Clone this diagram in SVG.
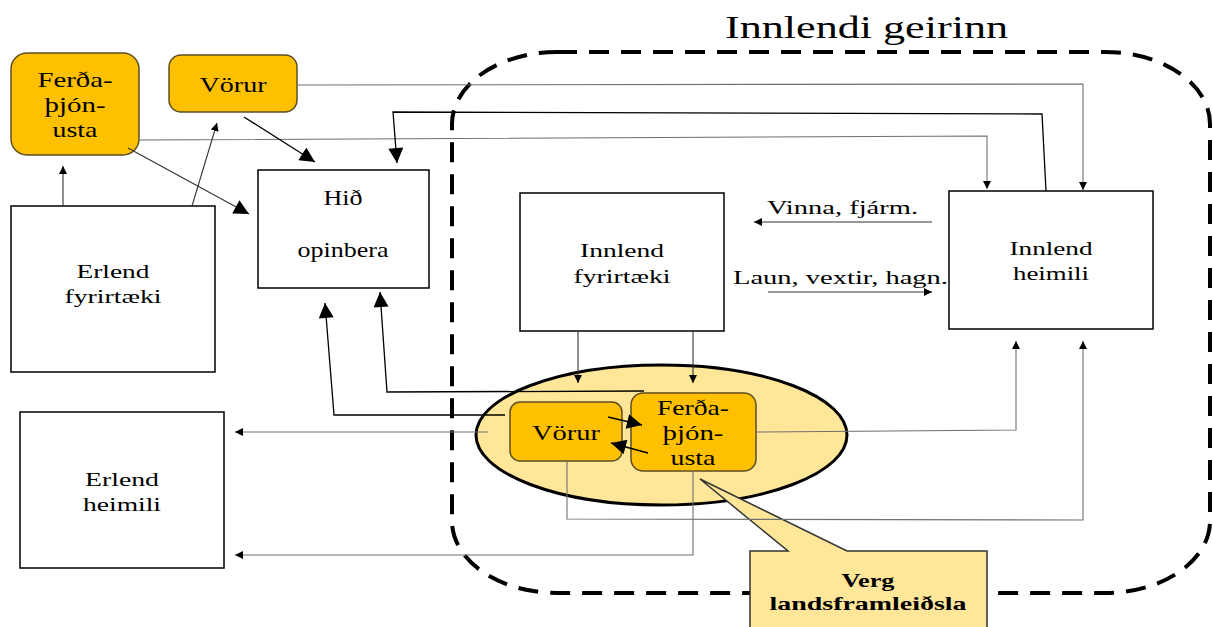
<svg xmlns="http://www.w3.org/2000/svg" width="1213" height="627" viewBox="0 0 1213 627">
<style>
.t{font-family:"Liberation Serif","Times New Roman",serif;fill:#000;}
.box{fill:#fff;stroke:#000;stroke-width:1.5;}
.obox{fill:#FFC000;stroke:#5e4e22;stroke-width:1.5;}
.gl{fill:none;stroke:#707070;stroke-width:1.1;}
.dl{fill:none;stroke:#333;stroke-width:1.1;}
.bl{fill:none;stroke:#000;stroke-width:1.3;}
.sm{marker-end:url(#sm);}
.lg{marker-end:url(#lg);}
</style>
<defs>
<marker id="sm" viewBox="0 0 10 10" refX="10" refY="5" markerUnits="userSpaceOnUse" markerWidth="8" markerHeight="8" orient="auto"><path d="M0,0 L10,5 L0,10 z" fill="#000"/></marker>
<marker id="lg" viewBox="0 0 10 10" refX="10" refY="5" markerUnits="userSpaceOnUse" markerWidth="16" markerHeight="15" orient="auto"><path d="M0,0 L10,5 L0,10 z" fill="#000"/></marker>
</defs>
<rect width="1213" height="627" fill="#fff"/>
<g id="innlendi-geirinn">
<rect x="452" y="52" width="758" height="541" rx="105" ry="72" fill="none" stroke="#000" stroke-width="4" stroke-dasharray="20 12"/>
<text class="t" x="725" y="38" font-size="32" textLength="283" lengthAdjust="spacingAndGlyphs">Innlendi geirinn</text>
</g>
<g id="ferda-erlend">
<rect class="obox" x="11" y="53" width="128" height="102" rx="16"/>
<text class="t" font-size="21" text-anchor="middle"><tspan x="75" y="87" textLength="75" lengthAdjust="spacingAndGlyphs">Ferða-</tspan><tspan x="75" y="112" textLength="61" lengthAdjust="spacingAndGlyphs">þjón-</tspan><tspan x="75" y="137" textLength="45" lengthAdjust="spacingAndGlyphs">usta</tspan></text>
</g>
<g id="vorur-erlend">
<rect class="obox" x="169" y="55" width="128" height="57" rx="12"/>
<text class="t" font-size="21" text-anchor="middle" x="233" y="92" textLength="67" lengthAdjust="spacingAndGlyphs">Vörur</text>
</g>
<g id="hid-opinbera">
<rect class="box" x="258" y="170" width="171" height="118"/>
<text class="t" font-size="21" text-anchor="middle"><tspan x="343" y="205" textLength="39" lengthAdjust="spacingAndGlyphs">Hið</tspan><tspan x="343" y="257" textLength="91" lengthAdjust="spacingAndGlyphs">opinbera</tspan></text>
</g>
<g id="erlend-fyrirtaeki">
<rect class="box" x="11" y="206" width="204" height="166"/>
<text class="t" font-size="19" text-anchor="middle"><tspan x="113" y="278" textLength="73" lengthAdjust="spacingAndGlyphs">Erlend</tspan><tspan x="113" y="303" textLength="97" lengthAdjust="spacingAndGlyphs">fyrirtæki</tspan></text>
</g>
<g id="erlend-heimili">
<rect class="box" x="20" y="412" width="204" height="156"/>
<text class="t" font-size="19" text-anchor="middle"><tspan x="122" y="486" textLength="74" lengthAdjust="spacingAndGlyphs">Erlend</tspan><tspan x="122" y="511" textLength="78" lengthAdjust="spacingAndGlyphs">heimili</tspan></text>
</g>
<g id="innlend-fyrirtaeki">
<rect class="box" x="520" y="193" width="204" height="138"/>
<text class="t" font-size="19" text-anchor="middle"><tspan x="622" y="257" textLength="84" lengthAdjust="spacingAndGlyphs">Innlend</tspan><tspan x="622" y="283" textLength="97" lengthAdjust="spacingAndGlyphs">fyrirtæki</tspan></text>
</g>
<g id="innlend-heimili">
<rect class="box" x="949" y="191" width="204" height="138"/>
<text class="t" font-size="19" text-anchor="middle"><tspan x="1051" y="255" textLength="83" lengthAdjust="spacingAndGlyphs">Innlend</tspan><tspan x="1051" y="280" textLength="76" lengthAdjust="spacingAndGlyphs">heimili</tspan></text>
</g>
<g id="landsframleidsla">
<ellipse cx="661.5" cy="435" rx="185.5" ry="70" fill="#FFE699" stroke="#000" stroke-width="3"/>
</g>
<g id="vorur-innlend">
<rect class="obox" x="510" y="402" width="112" height="59" rx="10"/>
<text class="t" font-size="22" text-anchor="middle" x="566" y="440" textLength="68" lengthAdjust="spacingAndGlyphs">Vörur</text>
</g>
<g id="ferda-innlend">
<rect class="obox" x="631" y="393" width="125" height="78" rx="12"/>
<text class="t" font-size="22" text-anchor="middle"><tspan x="693" y="415" textLength="72" lengthAdjust="spacingAndGlyphs">Ferða-</tspan><tspan x="693" y="440" textLength="61" lengthAdjust="spacingAndGlyphs">þjón-</tspan><tspan x="693" y="465" textLength="45" lengthAdjust="spacingAndGlyphs">usta</tspan></text>
</g>
<g id="verg-callout">
<path d="M750,551 L788,551 L700,479 L847,551 L987,551 L987,640 L750,640 Z" fill="#FFE699" stroke="#333" stroke-width="1.5"/>
<text class="t" font-size="19" font-weight="bold" text-anchor="middle"><tspan x="868" y="587" textLength="53" lengthAdjust="spacingAndGlyphs">Verg</tspan><tspan x="868" y="610" textLength="197" lengthAdjust="spacingAndGlyphs">landsframleiðsla</tspan></text>
</g>
<g id="connectors">
<polyline class="gl sm" points="297,85 1083,84 1083,190"/>
<polyline class="gl sm" points="139,140 987,136 987,189"/>
<polyline class="bl lg" points="1046,191 1042,114 393,112 397,163"/>
<line class="bl lg" x1="244" y1="117" x2="315" y2="162"/>
<line class="dl lg" x1="128" y1="148" x2="249" y2="214"/>
<line class="dl sm" x1="63" y1="206" x2="63" y2="166"/>
<line class="dl sm" x1="192" y1="206" x2="217" y2="123"/>
<polyline class="bl lg" points="505,415 334,415 325,303"/>
<polyline class="bl lg" points="644,391 387,392 380,292"/>
<line class="gl sm" x1="488" y1="432" x2="235" y2="432"/>
<polyline class="gl sm" points="693,471 693,555 235,555"/>
<polyline class="gl sm" points="567,461 567,519 1083,520 1083,341"/>
<polyline class="gl sm" points="756,432 1016,430 1016,341"/>
<line class="dl sm" x1="578" y1="331" x2="578" y2="383"/>
<line class="dl sm" x1="693" y1="331" x2="693" y2="383"/>
<line class="bl lg" x1="608" y1="417" x2="642" y2="425"/>
<line class="bl lg" x1="648" y1="453" x2="611" y2="443"/>
<line class="dl sm" x1="932" y1="222" x2="754" y2="222"/>
<line class="dl sm" x1="768" y1="292" x2="932" y2="292"/>
<text class="t" font-size="19" x="767" y="214" textLength="151" lengthAdjust="spacingAndGlyphs">Vinna, fjárm.</text>
<text class="t" font-size="19" x="733" y="284" textLength="215" lengthAdjust="spacingAndGlyphs">Laun, vextir, hagn.</text>
</g>
</svg>
